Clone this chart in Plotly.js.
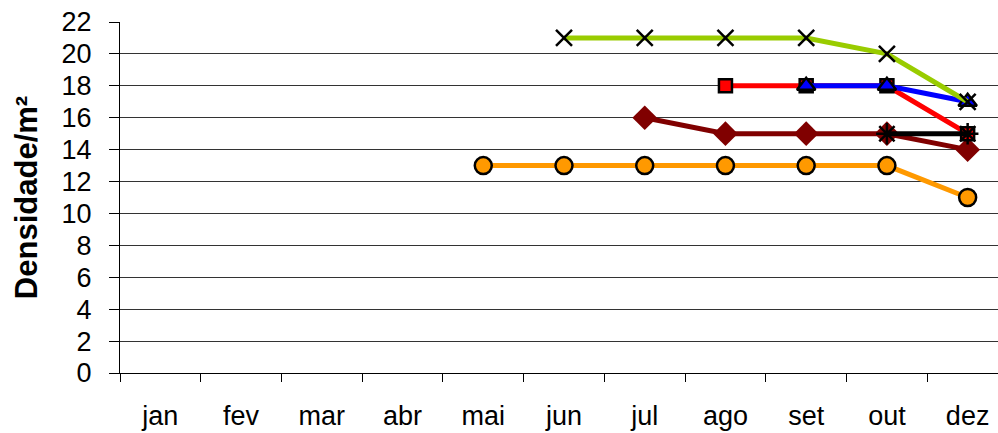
<!DOCTYPE html>
<html>
<head>
<meta charset="utf-8">
<script src="https://cdn.plot.ly/plotly-3.0.1.min.js"></script>
<style>
html,body{margin:0;padding:0;overflow:hidden;background:#fff;width:998px;height:433px;}
#chart{width:1020px;height:433px;}
</style>
</head>
<body>
<div id="chart"></div>
<script>
const months = ['jan','fev','mar','abr','mai','jun','jul','ago','set','out','dez'];

const orangeX = ['mai','jun','jul','ago','set','out','dez'];
const orangeY = [13,13,13,13,13,13,11];
const darkredX = ['jul','ago','set','out','dez'];
const darkredY = [16,15,15,15,14];
const redX = ['ago','set','out','dez'];
const redY = [18,18,18,15];
const blueX = ['set','out','dez'];
const blueY = [18,18,17];
const greenX = ['jun','jul','ago','set','out','dez'];
const greenY = [21,21,21,21,20,17];
const blackX = ['out','dez'];
const blackY = [15,15];

const yTicks = [0,2,4,6,8,10,12,14,16,18,20,22];

const traces = [
  {x: orangeX, y: orangeY, mode:'lines+markers', line:{color:'#FF9900', width:5},
   marker:{symbol:'circle', size:17, color:'#FF9900', line:{color:'#000', width:2.5}}},
  {x: darkredX, y: darkredY, mode:'lines+markers', line:{color:'#800000', width:5},
   marker:{symbol:'diamond', size:19, color:'#800000', line:{width:0}}},
  {x: redX, y: redY, mode:'lines+markers', line:{color:'#FF0000', width:5},
   marker:{symbol:'square', size:13, color:'#FF0000', line:{color:'#000', width:2.5}}},
  {x: blueX, y: blueY, mode:'lines+markers', line:{color:'#0000FF', width:5},
   marker:{symbol:'triangle-up', size:16, color:'#0000FF', line:{color:'#000', width:2.5}}},
  {x: greenX, y: greenY, mode:'lines+markers', line:{color:'#99CC00', width:5},
   marker:{symbol:'x-thin-open', size:16, color:'#000', line:{color:'#000', width:2.5}}},
  {x: blackX, y: blackY, mode:'lines+markers', line:{color:'#000000', width:5},
   marker:{symbol:'asterisk-open', size:18, color:'#000', line:{color:'#000', width:2.5}}}
];

const layout = {
  width: 1020, height: 433,
  margin: {l:120, r:12, t:22, b:60},
  paper_bgcolor:'#fff', plot_bgcolor:'#fff',
  showlegend:false,
  font:{family:'Liberation Sans, Arial, sans-serif', color:'#000', size:27},
  xaxis:{
    type:'category', categoryorder:'array', categoryarray: months,
    range:[-0.5, 10.5], tickson:'boundaries',
    ticks:'outside', ticklen:8, tickcolor:'#000', tickwidth:1,
    showgrid:false, zeroline:false,
    showline:true, linecolor:'#000', linewidth:1,
    tickfont:{size:27}, ticklabelstandoff:19
  },
  yaxis:{
    range:[0,22], tickvals: yTicks, ticktext: yTicks.map(String),
    ticks:'outside', ticklen:10, tickcolor:'#000', tickwidth:1,
    showgrid:true, gridcolor:'#333', gridwidth:1,
    zeroline:false, showline:true, linecolor:'#000', linewidth:1,
    tickfont:{size:27}, ticklabelstandoff:12,
    title:{text:'<b>Densidade/m²</b>', font:{size:31}, standoff:14}
  }
};

Plotly.newPlot('chart', traces, layout, {displayModeBar:false, staticPlot:true});
</script>
</body>
</html>
